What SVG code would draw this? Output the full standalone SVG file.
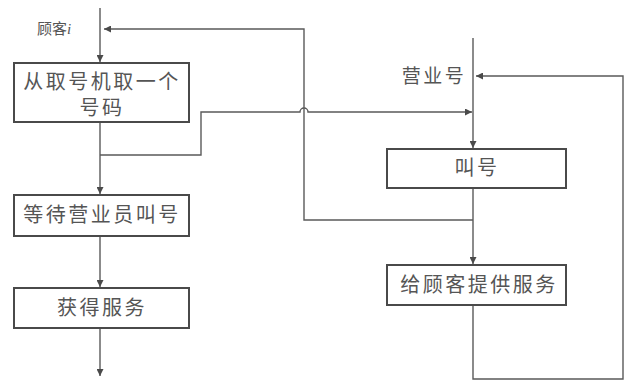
<svg xmlns="http://www.w3.org/2000/svg" width="626" height="382" viewBox="0 0 626 382">
<style>
.box{fill:#fff;stroke:#4a4a4a;stroke-width:2}
.ln{fill:none;stroke:#5a5a5a;stroke-width:1.4}
.t{font-family:"Liberation Serif","Noto Sans CJK SC",serif;font-size:20px;fill:#555;text-anchor:middle;letter-spacing:2.5px}
</style>
<defs>
<marker id="ah" viewBox="0 0 10 10" refX="10" refY="5" markerWidth="7" markerHeight="7" markerUnits="userSpaceOnUse" orient="auto">
<path d="M0,0 L10,5 L0,10 z" fill="#4a4a4a"/>
</marker>
</defs>
<rect width="626" height="382" fill="#fff"/>
<g id="connectors">
<path class="ln" d="M100,8 V62" marker-end="url(#ah)"/>
<path class="ln" d="M100,122 V194" marker-end="url(#ah)"/>
<path class="ln" d="M100,155 H201 V112 H300 A4,4 0 0 1 308,112 H472" marker-end="url(#ah)"/>
<path class="ln" d="M100,236 V287" marker-end="url(#ah)"/>
<path class="ln" d="M100,328 V376" marker-end="url(#ah)"/>
<path class="ln" d="M473,220 H304 V29 H104" marker-end="url(#ah)"/>
<path class="ln" d="M473,38 V148" marker-end="url(#ah)"/>
<path class="ln" d="M473,188 V264" marker-end="url(#ah)"/>
<path class="ln" d="M473,305 V379 H623 V76 H476" marker-end="url(#ah)"/>
</g>
<g id="label-customer">
<text x="54" y="34" class="t" style="font-size:15px;letter-spacing:0">顾客<tspan font-style="italic">i</tspan></text>
</g>
<g id="label-counter">
<text x="434" y="83" class="t" style="font-size:19px">营业号</text>
</g>
<g id="n1">
<rect class="box" x="14" y="63" width="175" height="59"/>
<text x="102" y="89" class="t">从取号机取一个</text>
<text x="102" y="115" class="t">号码</text>
</g>
<g id="n2">
<rect class="box" x="14" y="195" width="175" height="41"/>
<text x="102" y="222" class="t">等待营业员叫号</text>
</g>
<g id="n3">
<rect class="box" x="14" y="288" width="175" height="40"/>
<text x="102" y="315" class="t">获得服务</text>
</g>
<g id="n4">
<rect class="box" x="387" y="149" width="179" height="39"/>
<text x="477" y="175" class="t">叫号</text>
</g>
<g id="n5">
<rect class="box" x="387" y="265" width="179" height="40"/>
<text x="479" y="292" class="t">给顾客提供服务</text>
</g>
</svg>
